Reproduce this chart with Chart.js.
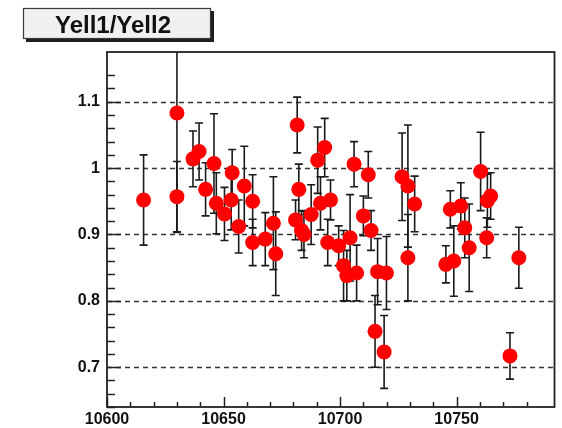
<!DOCTYPE html>
<html lang="en">
<head>
    <meta charset="UTF-8">
    <title>Yell1/Yell2</title>
    <style>
        body {
            margin: 0;
            padding: 0;
            background-color: #ffffff;
        }
        #wrap {
            width: 562px;
            height: 428px;
        }
    </style>
    <script src="https://cdn.jsdelivr.net/npm/chart.js"></script>
</head>
<body>
    <div id="wrap"><canvas id="ratioChart" width="562" height="428"></canvas></div>

    <script>
        // Yell1/Yell2 ratio per run, with errors
        const runs = [
            10615.7, 10630.0, 10630.0, 10636.9, 10639.5, 10642.3, 10645.9, 10646.9, 10650.4, 10653.3,
            10653.7, 10656.5, 10658.9, 10662.5, 10662.5, 10667.9, 10671.4, 10672.4, 10680.9, 10681.6,
            10682.3, 10683.5, 10684.5, 10687.6, 10690.4, 10691.6, 10693.4, 10694.7, 10695.9, 10699.4,
            10701.5, 10702.9, 10704.3, 10706.0, 10707.1, 10710.0, 10712.1, 10713.3, 10715.0, 10716.1,
            10718.9, 10719.9, 10726.6, 10729.1, 10729.1, 10732.0, 10745.4, 10747.3, 10748.8, 10751.8,
            10753.5, 10755.4, 10760.3, 10762.9, 10763.2, 10764.6, 10772.9, 10776.7
        ];
        const ratio = [
            0.952, 1.083, 0.957, 1.014, 1.025, 0.968, 1.007, 0.947, 0.931, 0.952,
            0.993, 0.912, 0.973, 0.950, 0.888, 0.893, 0.917, 0.871, 0.922, 1.065,
            0.968, 0.906, 0.900, 0.930, 1.012, 0.947, 1.031, 0.888, 0.952, 0.883,
            0.853, 0.838, 0.895, 1.006, 0.842, 0.928, 0.990, 0.906, 0.754, 0.844,
            0.723, 0.842, 0.987, 0.973, 0.865, 0.946, 0.855, 0.938, 0.860, 0.943,
            0.910, 0.880, 0.995, 0.895, 0.951, 0.958, 0.717, 0.865
        ];
        const ratioErr = [
            0.068, 0.180, 0.053, 0.042, 0.043, 0.040, 0.075, 0.046, 0.040, 0.045,
            0.035, 0.040, 0.060, 0.040, 0.035, 0.040, 0.070, 0.063, 0.030, 0.042,
            0.038, 0.030, 0.035, 0.045, 0.050, 0.040, 0.044, 0.035, 0.030, 0.030,
            0.053, 0.038, 0.065, 0.034, 0.042, 0.030, 0.035, 0.030, 0.054, 0.050,
            0.055, 0.055, 0.066, 0.092, 0.065, 0.042, 0.028, 0.028, 0.053, 0.035,
            0.045, 0.066, 0.059, 0.030, 0.040, 0.035, 0.035, 0.046
        ];

        const xMajorTicks = [10600, 10650, 10700, 10750];
        const xTickLabels = ['10600', '10650', '10700', '10750'];
        const yMajorTicks = [0.7, 0.8, 0.9, 1.0, 1.1];
        const yTickLabels = ['0.7', '0.8', '0.9', '1', '1.1'];
        const plotTitle = 'Yell1/Yell2';

        const points = runs.map((r, i) => ({ x: r, y: ratio[i] }));

        function majorIndex(list, v) {
            return list.findIndex(t => Math.abs(t - v) < 1e-6);
        }

        // frame, dashed grid, inside ticks, error bars and the title box
        const rootStyle = {
            id: 'rootStyle',
            beforeDatasetsDraw(chart) {
                const ctx = chart.ctx;
                const area = chart.chartArea;
                const xs = chart.scales.x;
                const ys = chart.scales.y;

                ctx.save();
                ctx.strokeStyle = '#333';
                ctx.lineWidth = 1.5;
                ctx.setLineDash([5, 4]);
                yMajorTicks.forEach(v => {
                    const py = Math.round(ys.getPixelForValue(v)) + 0.5;
                    ctx.beginPath();
                    ctx.moveTo(area.left, py);
                    ctx.lineTo(area.right, py);
                    ctx.stroke();
                });
                ctx.setLineDash([]);

                // error bars under the markers
                ctx.beginPath();
                ctx.rect(area.left, area.top, area.right - area.left, area.bottom - area.top);
                ctx.clip();
                ctx.strokeStyle = '#1a1a1a';
                ctx.lineWidth = 1.6;
                runs.forEach((r, i) => {
                    const px = xs.getPixelForValue(r);
                    const top = ys.getPixelForValue(ratio[i] + ratioErr[i]);
                    const bot = ys.getPixelForValue(ratio[i] - ratioErr[i]);
                    ctx.beginPath();
                    ctx.moveTo(px, top);
                    ctx.lineTo(px, bot);
                    ctx.moveTo(px - 4, top);
                    ctx.lineTo(px + 4, top);
                    ctx.moveTo(px - 4, bot);
                    ctx.lineTo(px + 4, bot);
                    ctx.stroke();
                });
                ctx.restore();
            },
            afterDatasetsDraw(chart) {
                const ctx = chart.ctx;
                const area = chart.chartArea;
                const xs = chart.scales.x;
                const ys = chart.scales.y;

                ctx.save();
                ctx.strokeStyle = '#222';
                ctx.lineWidth = 1.5;

                xs.ticks.forEach(t => {
                    if (Math.round(t.value) % 10 !== 0) return;
                    const px = Math.round(xs.getPixelForValue(t.value)) + 0.5;
                    const len = majorIndex(xMajorTicks, t.value) >= 0 ? 10 : 5;
                    ctx.beginPath();
                    ctx.moveTo(px, area.bottom);
                    ctx.lineTo(px, area.bottom - len);
                    ctx.stroke();
                });
                ys.ticks.forEach(t => {
                    if (Math.round(t.value * 1000) % 20 !== 0) return;
                    const py = Math.round(ys.getPixelForValue(t.value)) + 0.5;
                    const len = majorIndex(yMajorTicks, t.value) >= 0 ? 14 : 8;
                    ctx.beginPath();
                    ctx.moveTo(area.left, py);
                    ctx.lineTo(area.left + len, py);
                    ctx.stroke();
                });

                ctx.lineWidth = 1.8;
                ctx.strokeRect(area.left, area.top, area.right - area.left, area.bottom - area.top);
                ctx.restore();
            },
            afterDraw(chart) {
                const ctx = chart.ctx;
                ctx.save();
                ctx.fillStyle = '#1e1e1e';
                ctx.fillRect(26, 11, 188, 31);
                ctx.fillStyle = '#f0f0f0';
                ctx.fillRect(23, 8, 188, 31);
                ctx.strokeStyle = '#3a3a3a';
                ctx.lineWidth = 1.2;
                ctx.strokeRect(23.5, 8.5, 187, 30);
                ctx.fillStyle = '#111';
                ctx.font = "bold 24px 'Liberation Sans', Arial, sans-serif";
                ctx.textAlign = 'center';
                ctx.textBaseline = 'alphabetic';
                ctx.fillText(plotTitle, 113, 33);
                ctx.restore();
            }
        };

        Chart.defaults.font.family = "'Liberation Sans', Arial, sans-serif";

        const ctx = document.getElementById('ratioChart').getContext('2d');
        const ratioChart = new Chart(ctx, {
            type: 'scatter',
            data: {
                datasets: [
                    {
                        label: plotTitle,
                        data: points,
                        backgroundColor: '#ff0000',
                        borderWidth: 0,
                        pointRadius: 7.5,
                        pointHoverRadius: 7.5,
                    },
                ],
            },
            options: {
                responsive: false,
                animation: false,
                events: [],
                layout: {
                    padding: { left: 0, right: 4, top: 52, bottom: 0 }
                },
                plugins: {
                    legend: { display: false },
                    tooltip: { enabled: false },
                },
                scales: {
                    x: {
                        type: 'linear',
                        min: 10600,
                        max: 10792,
                        grid: { display: false, drawTicks: false },
                        border: { display: false },
                        ticks: {
                            stepSize: 10,
                            autoSkip: false,
                            maxRotation: 0,
                            padding: 3,
                            color: '#111',
                            font: { size: 16, weight: 'bold' },
                            callback: (v) => {
                                const i = majorIndex(xMajorTicks, v);
                                return i >= 0 ? xTickLabels[i] : '';
                            }
                        },
                        afterFit: (scale) => { scale.height = 21; }
                    },
                    y: {
                        type: 'linear',
                        min: 0.64,
                        max: 1.175,
                        grid: { display: false, drawTicks: false },
                        border: { display: false },
                        ticks: {
                            stepSize: 0.02,
                            autoSkip: false,
                            padding: 7,
                            color: '#111',
                            font: { size: 16, weight: 'bold' },
                            callback: (v) => {
                                const i = majorIndex(yMajorTicks, v);
                                return i >= 0 ? yTickLabels[i] : '';
                            }
                        },
                        afterFit: (scale) => { scale.width = 107; }
                    },
                },
            },
            plugins: [rootStyle],
        });
    </script>
</body>
</html>
